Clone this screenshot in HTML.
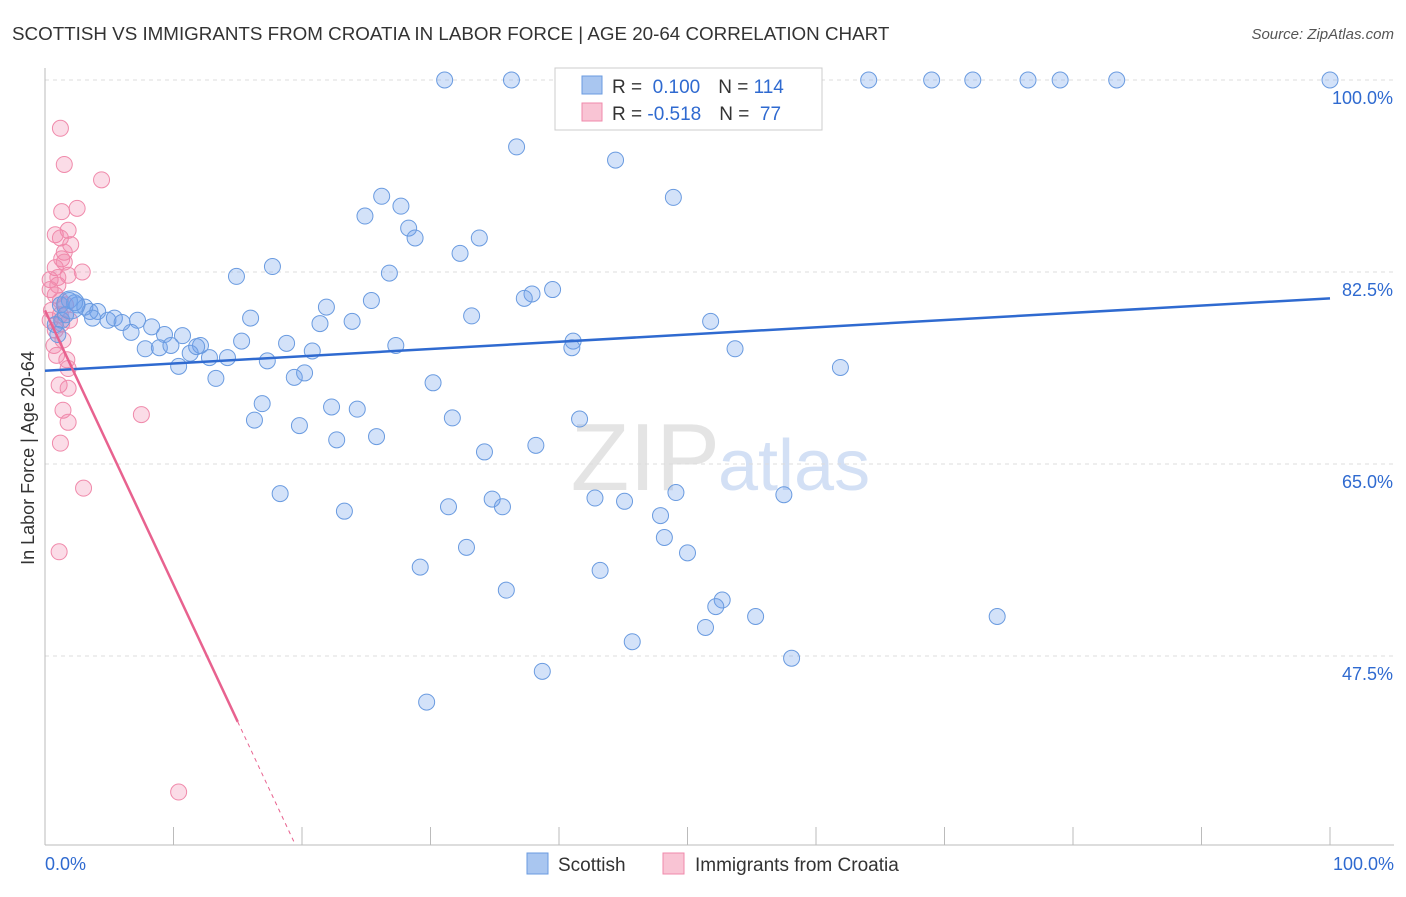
<!DOCTYPE html>
<html><head><meta charset="utf-8"><style>
body{margin:0;background:#fff;font-family:"Liberation Sans",sans-serif;}
svg text{font-family:"Liberation Sans",sans-serif;}
</style></head><body>
<svg id="c" width="1406" height="892">
<text x="12" y="40" font-size="18.8" fill="#333">SCOTTISH VS IMMIGRANTS FROM CROATIA IN LABOR FORCE | AGE 20-64 CORRELATION CHART</text>
<text x="1394" y="39" font-size="15" fill="#555" font-style="italic" text-anchor="end">Source: ZipAtlas.com</text>
<text x="34" y="458" font-size="18" fill="#333" text-anchor="middle" transform="rotate(-90 34 458)">In Labor Force | Age 20-64</text>
<text x="720" y="490" font-size="96" fill="#e4e4e4" text-anchor="end" font-family="Liberation Serif">ZIP</text>
<text x="718" y="490" font-size="72" fill="#d3e0f5">atlas</text>
<g id="grid"></g><g id="pts"></g><g id="lines"></g>
<g>
<rect x="555" y="68" width="267" height="62" fill="#fff" stroke="#ccc"/>
<rect x="582" y="76" width="20" height="18" fill="#a9c6f0" stroke="#6a9be0"/>
<rect x="582" y="103" width="20" height="18" fill="#f9c4d4" stroke="#f08aab"/>
<text x="612" y="93" font-size="19" fill="#333">R = <tspan fill="#2f6ad0">&#160;0.100</tspan><tspan dx="18">N = </tspan><tspan fill="#2f6ad0">114</tspan></text>
<text x="612" y="120" font-size="19" fill="#333">R = <tspan fill="#2f6ad0">-0.518</tspan><tspan dx="18">N = </tspan><tspan fill="#2f6ad0">&#160;77</tspan></text>
</g>
<g>
<rect x="527" y="853" width="21" height="21" fill="#a9c6f0" stroke="#6a9be0"/>
<text x="558" y="871" font-size="19" fill="#333">Scottish</text>
<rect x="663" y="853" width="21" height="21" fill="#f9c4d4" stroke="#f08aab"/>
<text x="695" y="871" font-size="19" fill="#333">Immigrants from Croatia</text>
</g>
</svg>
<script>
const yTicks=[100,82.5,65,47.5];
const yTickLabels=["100.0%","82.5%","65.0%","47.5%"];
const xTickLabels=["0.0%","100.0%"];
const blueX=[31.1,36.3,59.2,64.1,69.0,72.2,76.5,79.0,83.4,100,36.7,44.4,48.9,26.2,24.9,27.7,28.3,28.8,33.8,32.3,17.7,14.9,26.8,39.5,37.9,37.3,25.4,21.9,16.0,21.4,23.9,33.2,51.8,41.1,41.0,53.7,27.3,20.8,18.8,15.3,12.1,10.7,9.3,8.3,7.2,6.7,7.8,8.9,9.8,11.3,11.8,12.8,14.2,17.3,10.4,13.3,19.4,20.2,30.2,61.9,16.9,16.3,22.3,24.3,31.7,41.6,19.8,22.7,25.8,34.2,38.2,18.3,23.3,31.4,34.8,35.6,42.8,45.1,49.1,57.5,47.9,48.2,32.8,50.0,29.2,43.2,35.9,52.7,52.2,55.3,51.4,45.7,74.1,58.1,38.7,29.7,1.2,1.9,2.5,3.1,3.5,4.1,4.9,5.4,6.0,1.3,1.6,0.8,1.0,2.3,3.7];
const blueY=[100,100,100,100,100,100,100,100,100,100,93.9,92.7,89.3,89.4,87.6,88.5,86.5,85.6,85.6,84.2,83.0,82.1,82.4,80.9,80.5,80.1,79.9,79.3,78.3,77.8,78.0,78.5,78.0,76.2,75.6,75.5,75.8,75.3,76.0,76.2,75.8,76.7,76.8,77.5,78.1,77.0,75.5,75.6,75.8,75.1,75.7,74.7,74.7,74.4,73.9,72.8,72.9,73.3,72.4,73.8,70.5,69.0,70.2,70.0,69.2,69.1,68.5,67.2,67.5,66.1,66.7,62.3,60.7,61.1,61.8,61.1,61.9,61.6,62.4,62.2,60.3,58.3,57.4,56.9,55.6,55.3,53.5,52.6,52.0,51.1,50.1,48.8,51.1,47.3,46.1,43.3,79.5,79.9,79.5,79.3,78.9,78.9,78.1,78.3,77.9,78.1,78.6,77.7,76.8,79.7,78.3];
const pinkX=[1.2,1.5,4.4,1.3,2.5,0.8,1.8,1.2,2.0,1.5,1.3,2.9,0.8,1.8,0.4,1.0,0.4,0.8,1.2,1.6,0.5,1.2,1.9,0.4,0.8,1.4,0.9,1.7,1.8,1.1,1.8,1.4,1.8,7.5,1.2,3.0,1.1,10.4,0.7,1.3,1.0,1.5];
const pinkY=[95.6,92.3,90.9,88.0,88.3,85.9,86.3,85.6,85.0,84.3,83.7,82.5,82.9,82.2,81.8,81.3,80.9,80.4,79.9,79.5,79.0,78.6,78.1,78.1,77.2,76.3,74.9,74.5,73.7,72.2,71.9,69.9,68.8,69.5,66.9,62.8,57.0,35.1,75.8,77.8,82.0,83.4];
const blueTrend=[73.5,80.1];
const pinkTrend=[79.0,-2.5];
const sx=v=>45+v*12.85, sy=v=>80+(100-v)*192/17.5;
const NS="http://www.w3.org/2000/svg";
function mk(t,a,p){const e=document.createElementNS(NS,t);for(const k in a)e.setAttribute(k,a[k]);p.appendChild(e);return e;}
const g=document.getElementById('grid');
yTicks.forEach((v,i)=>{
 const l=mk('line',{x1:45,x2:1394,y1:sy(v),y2:sy(v),stroke:'#ddd','stroke-dasharray':'4,4'},g);
 
 
 const t=mk('text',{x:1393,y:sy(v)+24,'font-size':18,fill:'#2f6ad0','text-anchor':'end'},g);
 t.textContent=yTickLabels[i];
 
 
});
mk('line',{x1:45,x2:45,y1:68,y2:845,stroke:'#bbb'},g);
mk('line',{x1:45,x2:1394,y1:845,y2:845,stroke:'#bbb'},g);
for(let i=0;i<=10;i++){const x=sx(i*10);mk('line',{x1:x,x2:x,y1:827,y2:845,stroke:'#bbb'},g);}
[[0,'start',45],[100,'end',1394]].forEach((d,i)=>{
 const t=mk('text',{x:d[2],y:870,'font-size':18,fill:'#2f6ad0','text-anchor':d[1]},g);
 t.textContent=xTickLabels[i];
 
 
});
const p=document.getElementById('pts');
pinkX.forEach((x,i)=>{
 const c=mk('circle',{cx:sx(x),cy:sy(pinkY[i]),r:8,fill:'rgba(240,130,170,0.28)',stroke:'#f08aab','stroke-width':1},p);
 
 
});
blueX.forEach((x,i)=>{
 const c=mk('circle',{cx:sx(x),cy:sy(blueY[i]),r:8,fill:'rgba(110,160,235,0.3)',stroke:'#6a9be0','stroke-width':1},p);
 
 
});
const big=mk('circle',{cx:sx(2),cy:sy(79.5),r:14,fill:'rgba(110,160,235,0.35)',stroke:'#6a9be0'},p);


const L=document.getElementById('lines');
const bl=mk('line',{x1:sx(0),y1:sy(blueTrend[0]),x2:sx(100),y2:sy(blueTrend[1]),stroke:'#2f6ad0','stroke-width':2.5},L);


const pf=x=>pinkTrend[0]+pinkTrend[1]*x;
const pl=mk('line',{x1:sx(0),y1:sy(pf(0)),x2:sx(15),y2:sy(pf(15)),stroke:'#e8628f','stroke-width':2.5},L);


const pd=mk('line',{x1:sx(15),y1:sy(pf(15)),x2:sx(19.4),y2:sy(pf(19.4)),stroke:'#e8628f','stroke-width':1,'stroke-dasharray':'4,4'},L);


</script>
</body></html>
